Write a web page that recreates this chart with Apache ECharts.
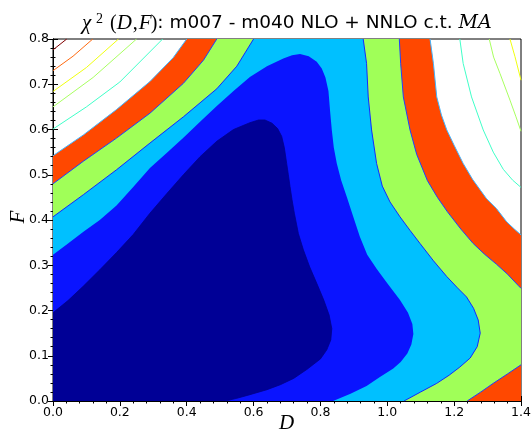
<!DOCTYPE html>
<html><head><meta charset="utf-8">
<script src="https://cdn.jsdelivr.net/npm/echarts@6/dist/echarts.min.js"></script>
<style>html,body{margin:0;padding:0;background:#fff}#c{width:532px;height:433px}</style>
</head><body><div id="c"></div>
<script>
// Axis ranges and tick labels
const D_MIN = 0, D_MAX = 1.4, D_STEP = 0.2;
const F_MIN = 0, F_MAX = 0.8, F_STEP = 0.1;
const xTickLabels = ['0.0','0.2','0.4','0.6','0.8','1.0','1.2','1.4'];
const yTickLabels = ['0.0','0.1','0.2','0.3','0.4','0.5','0.6','0.7','0.8'];

// Contour boundaries [D, F]
const navyEdge = [[0,0.195],[0.045,0.222],[0.091,0.254],[0.14,0.29],[0.19,0.328],[0.24,0.368],[0.29,0.415],[0.34,0.458],[0.39,0.50],[0.44,0.54],[0.49,0.574],[0.54,0.60],[0.589,0.615],[0.615,0.621],[0.634,0.621],[0.655,0.614],[0.672,0.602],[0.684,0.585],[0.692,0.56],[0.699,0.525],[0.704,0.50],[0.709,0.474],[0.715,0.445],[0.722,0.415],[0.734,0.37],[0.749,0.334],[0.768,0.296],[0.789,0.26],[0.81,0.223],[0.826,0.19],[0.834,0.16],[0.831,0.135],[0.819,0.113],[0.8,0.093],[0.76,0.07],[0.72,0.05],[0.68,0.036],[0.64,0.025],[0.589,0.014],[0.55,0.006],[0.515,0]];
const blueEdge = [[0,0.323],[0.045,0.348],[0.091,0.374],[0.14,0.40],[0.19,0.432],[0.24,0.473],[0.29,0.515],[0.34,0.548],[0.39,0.582],[0.44,0.617],[0.49,0.652],[0.54,0.685],[0.589,0.716],[0.64,0.740],[0.689,0.757],[0.715,0.764],[0.739,0.767],[0.765,0.762],[0.789,0.750],[0.804,0.735],[0.815,0.715],[0.824,0.685],[0.829,0.64],[0.834,0.599],[0.84,0.56],[0.849,0.525],[0.862,0.488],[0.879,0.451],[0.897,0.41],[0.918,0.363],[0.94,0.323],[0.968,0.292],[1.0,0.26],[1.038,0.223],[1.062,0.195],[1.075,0.17],[1.078,0.148],[1.072,0.125],[1.06,0.105],[1.04,0.086],[1.018,0.072],[0.978,0.053],[0.938,0.033],[0.89,0.016],[0.838,0]];
const lightBlueLeft = [[0,0.407],[0.091,0.456],[0.19,0.511],[0.29,0.570],[0.39,0.628],[0.49,0.69],[0.55,0.74],[0.60,0.8]];
const lightBlueRight = [[0.928,0.8],[0.938,0.746],[0.943,0.672],[0.953,0.599],[0.968,0.525],[0.985,0.475],[1.008,0.44],[1.038,0.407],[1.068,0.377],[1.098,0.348],[1.138,0.31],[1.178,0.275],[1.21,0.25],[1.237,0.23],[1.258,0.205],[1.272,0.179],[1.278,0.15],[1.269,0.12],[1.248,0.095],[1.217,0.075],[1.185,0.057],[1.148,0.039],[1.1,0.02],[1.05,0]];
const greenLeft = [[0,0.480],[0.091,0.530],[0.19,0.581],[0.29,0.636],[0.39,0.702],[0.45,0.753],[0.49,0.8]];
const greenRightUpper = [[1.036,0.8],[1.040,0.746],[1.048,0.672],[1.068,0.599],[1.088,0.545],[1.12,0.487],[1.15,0.45],[1.18,0.418],[1.22,0.38],[1.257,0.348],[1.29,0.325],[1.327,0.302],[1.36,0.28],[1.392,0.255],[1.4,0.249]];
const greenRightLower = [[1.4,0.080],[1.36,0.06],[1.317,0.039],[1.28,0.02],[1.239,0]];
const redLeft = [[0,0.542],[0.091,0.588],[0.19,0.644],[0.29,0.706],[0.36,0.759],[0.40,0.8]];
const redRight = [[1.128,0.8],[1.138,0.746],[1.148,0.672],[1.162,0.632],[1.178,0.599],[1.2,0.565],[1.227,0.525],[1.255,0.49],[1.297,0.447],[1.327,0.425],[1.357,0.396],[1.38,0.38],[1.4,0.367]];

// Contour lines in the white area
const cyanLeft = [[0,0.601],[0.1,0.65],[0.2,0.705],[0.328,0.8]];
const greenLineLeft = [[0,0.650],[0.12,0.715],[0.25,0.8]];
const yellowLeft = [[0,0.684],[0.1,0.737],[0.196,0.8]];
const orangeLeft = [[0,0.730],[0.06,0.762],[0.119,0.8]];
const darkRedLeft = [[0,0.776],[0.041,0.8]];
const cyanRight = [[1.217,0.8],[1.227,0.746],[1.252,0.672],[1.287,0.599],[1.317,0.55],[1.347,0.512],[1.375,0.488],[1.4,0.472]];
const greenLineRight = [[1.305,0.8],[1.318,0.76],[1.337,0.724],[1.367,0.665],[1.385,0.628],[1.4,0.596]];
const yellowRight = [[1.367,0.8],[1.382,0.761],[1.4,0.709]];

const corner00 = [[D_MIN,F_MIN]];
const cornerR0 = [[D_MAX,F_MIN]];

const regions = [
  {pts: redLeft.concat(redRight, cornerR0, corner00), color:'#ff4800'},
  {pts: greenLeft.concat(greenRightUpper, greenRightLower, corner00), color:'#a0ff58'},
  {pts: lightBlueLeft.concat(lightBlueRight, corner00), color:'#00c0ff'},
  {pts: blueEdge.concat(corner00), color:'#0a14ff'},
  {pts: navyEdge.concat(corner00), color:'#000096'}
];

const lines = [
  {pts: navyEdge, color:'#00008c', w:0.8},
  {pts: lightBlueLeft, color:'#1428ff', w:1},
  {pts: lightBlueRight, color:'#1428ff', w:1},
  {pts: greenLeft, color:'#2040ff', w:1},
  {pts: greenRightUpper, color:'#2040ff', w:1},
  {pts: greenRightLower, color:'#2040ff', w:1},
  {pts: redLeft, color:'#40b4ff', w:1},
  {pts: redRight, color:'#40b4ff', w:1},
  {pts: cyanLeft, color:'#40ffc8', w:1},
  {pts: greenLineLeft, color:'#a8ff60', w:1},
  {pts: yellowLeft, color:'#f0ff10', w:1},
  {pts: orangeLeft, color:'#ff6a10', w:1},
  {pts: darkRedLeft, color:'#800000', w:1},
  {pts: cyanRight, color:'#40ffc8', w:1},
  {pts: greenLineRight, color:'#a8ff60', w:1},
  {pts: yellowRight, color:'#f0ff10', w:1}
];

const series = [];
regions.forEach((r, i) => {
  series.push({
    type:'custom', coordinateSystem:'cartesian2d', xAxisIndex:0, yAxisIndex:0,
    clip:true, silent:true, z:1 + i,
    data:[r.pts[0]],
    renderItem:(params, api) => ({
      type:'polygon',
      shape:{points: r.pts.map(p => api.coord(p))},
      style:{fill:r.color}
    })
  });
});
lines.forEach(l => {
  series.push({
    type:'line', xAxisIndex:0, yAxisIndex:0, data:l.pts, showSymbol:false, silent:true,
    clip:true, z:10, lineStyle:{color:l.color, width:l.w}
  });
});

const tickFont = {fontFamily:'DejaVu Sans', fontSize:12.5, color:'#000'};
const lbl = (labels, step, min) => (v) => {
  const i = Math.round((v - min) / step);
  return labels[i] !== undefined ? labels[i] : '';
};
const axisCommon = {
  axisLine:{show:true, lineStyle:{color:'#000', width:1}},
  axisTick:{show:true, inside:true, length:5, lineStyle:{color:'#000', width:1}},
  minorTick:{show:true, splitNumber:5, length:2.5, lineStyle:{color:'#000', width:1}},
  splitLine:{show:false}, minorSplitLine:{show:false}
};

const mathIt = {fontFamily:'Liberation Serif', fontStyle:'italic', fontWeight:'normal', fontSize:21, color:'#000'};
const chart = echarts.init(document.getElementById('c'), null, {renderer:'canvas'});
chart.setOption({
  animation:false,
  backgroundColor:'#fff',
  title:{
    left:77, top:7,
    text:'{c|χ}{s|2}{r|(}{d|D}{k|,}{f|F}{r|)}{t|: m007 - m040 NLO + NNLO c.t. }{ma|MA}',
    textStyle:{
      fontWeight:'normal',
      rich:{
        c:Object.assign({}, mathIt, {width:14}),
        s:{fontFamily:'Liberation Serif', fontWeight:'normal', fontSize:14, color:'#000', width:14, padding:[0,0,9,0]},
        r:{fontFamily:'Liberation Serif', fontWeight:'normal', fontSize:20, color:'#000'},
        d:Object.assign({}, mathIt, {width:16}),
        k:{fontFamily:'Liberation Serif', fontWeight:'normal', fontSize:20, color:'#000', width:6},
        f:Object.assign({}, mathIt, {width:12}),
        t:{fontFamily:'DejaVu Sans', fontWeight:'normal', fontSize:18.5, color:'#000'},
        ma:Object.assign({}, mathIt, {fontFamily:'DejaVu Serif', fontSize:19})
      }
    }
  },
  graphic:[
    {type:'text', left:279, top:413, silent:true,
      style:{text:'D', font:'italic 21px "Liberation Serif"', fill:'#000'}},
    {type:'text', x:18, y:217, rotation:Math.PI/2, silent:true,
      style:{text:'F', font:'italic 21px "Liberation Serif"', fill:'#000', align:'center', verticalAlign:'middle'}}
  ],
  grid:{left:53, right:11, top:39, bottom:32, show:true, borderColor:'#000', borderWidth:1,
    containLabel:false, outerBoundsMode:'none'},
  xAxis:[
    Object.assign({type:'value', min:D_MIN, max:D_MAX, interval:D_STEP, position:'bottom',
      axisLabel:Object.assign({margin:5, formatter:lbl(xTickLabels, D_STEP, D_MIN)}, tickFont)}, axisCommon),
    Object.assign({type:'value', min:D_MIN, max:D_MAX, interval:D_STEP, position:'top',
      axisLabel:{show:false}}, axisCommon)
  ],
  yAxis:[
    Object.assign({type:'value', min:F_MIN, max:F_MAX, interval:F_STEP, position:'left',
      axisLabel:Object.assign({margin:4, formatter:lbl(yTickLabels, F_STEP, F_MIN)}, tickFont)}, axisCommon),
    Object.assign({type:'value', min:F_MIN, max:F_MAX, interval:F_STEP, position:'right',
      axisLabel:{show:false}}, axisCommon)
  ],
  series: series
});
</script>
</body></html>
